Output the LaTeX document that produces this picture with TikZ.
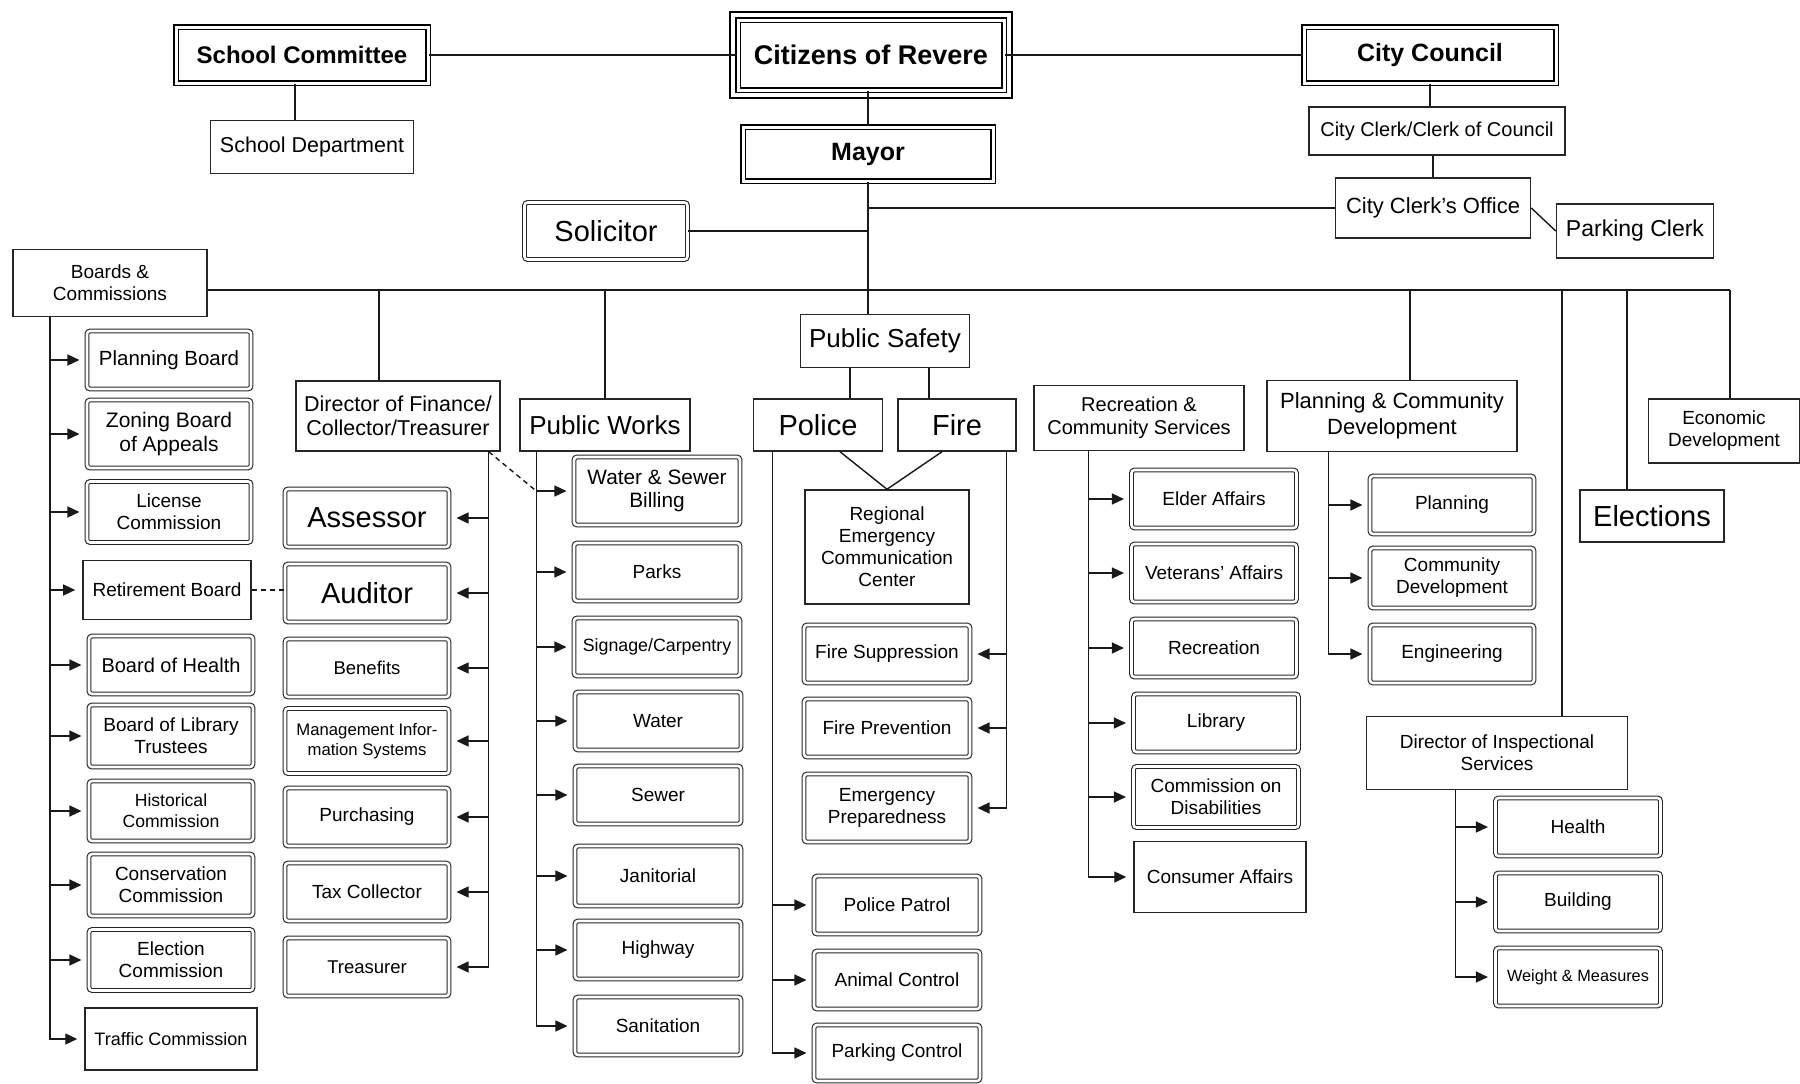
\documentclass[tikz,border=0pt]{standalone}
\usepackage{fontspec}
\setmainfont{Liberation Sans}
\usetikzlibrary{arrows.meta,calc}
\begin{document}
\begin{tikzpicture}[x=1pt,y=-1pt,
  every node/.style={inner sep=0pt, align=center, fill=white, font=\fontsize{19}{22}\selectfont},
  ln/.style={line width=1.4pt, draw=black!90},
  plain/.style={draw=black!85, line width=1.5pt, fill=white},
  leaf/.style={draw=black!85, line width=1.1pt, double=white, double distance=2.6pt, rounded corners=3pt, minimum width=164pt, minimum height=58pt},
  topbox/.style={draw=black, line width=1.8pt, double=white, double distance=3pt, font=\bfseries\fontsize{25}{28}\selectfont},
  arr/.style={ln, -{Triangle[length=12pt,width=11pt]}, shorten >=7pt},
]
\fill[white] (0,0) rectangle (1800,1084);
\useasboundingbox (0,0) rectangle (1800,1084);

% ---------- top level ----------
\node[topbox, minimum width=252pt, minimum height=56pt, font=\bfseries\fontsize{24}{28}\selectfont] (sc) at (302,55) {School Committee};
\node[topbox, minimum width=266pt, minimum height=70pt, font=\bfseries\fontsize{27}{30}\selectfont] (cit) at (871,55) {Citizens of Revere};
\draw[line width=2.4pt] ([shift={(-7,-7)}]cit.north west) rectangle ([shift={(7,7)}]cit.south east);
\node[topbox, minimum width=252pt, minimum height=56pt] (cc) at (1430,55) {City Council};
\node[topbox, minimum width=250pt, minimum height=54pt] (mayor) at (868,154) {Mayor};

\node[plain, minimum width=203pt, minimum height=53pt, font=\fontsize{21.5}{24}\selectfont] (sd) at (312,147) {School Department};
\node[plain, minimum width=256pt, minimum height=48pt, font=\fontsize{20}{23}\selectfont] (cccc) at (1437,131) {City Clerk/Clerk of Council};
\node[plain, minimum width=195pt, minimum height=60pt, font=\fontsize{22}{25}\selectfont] (cco) at (1433,208) {City Clerk's Office};
\node[plain, minimum width=157pt, minimum height=54pt, font=\fontsize{23}{26}\selectfont] (pc) at (1635,231) {Parking Clerk};
\node[leaf, minimum width=163pt, minimum height=57pt, font=\fontsize{29}{32}\selectfont] (sol) at (606,231) {Solicitor};
\node[plain, minimum width=194pt, minimum height=67pt] (boards) at (110,283) {Boards \&\\Commissions};

% ---------- second level ----------
\node[plain, minimum width=204pt, minimum height=70pt, font=\fontsize{21.5}{24}\selectfont] (fin) at (398,416) {Director of Finance/\\Collector/Treasurer};
\node[plain, minimum width=170pt, minimum height=52pt, font=\fontsize{26}{29}\selectfont] (pw) at (605,425) {Public Works};
\node[plain, minimum width=169pt, minimum height=53pt, font=\fontsize{26}{29}\selectfont] (ps) at (885,341) {Public Safety};
\node[plain, minimum width=129pt, minimum height=52pt, font=\fontsize{29}{32}\selectfont] (police) at (818,425) {Police};
\node[plain, minimum width=118pt, minimum height=52pt, font=\fontsize{29}{32}\selectfont] (fire) at (957,425) {Fire};
\node[plain, minimum width=164pt, minimum height=114pt] (recc) at (887,547) {Regional\\Emergency\\Communication\\Center};
\node[plain, minimum width=210pt, minimum height=65pt, font=\fontsize{20}{23}\selectfont] (rcs) at (1139,418) {Recreation \&\\Community Services};
\node[plain, minimum width=250pt, minimum height=71pt, font=\fontsize{22}{26}\selectfont] (pcd) at (1392,416) {Planning \& Community\\Development};
\node[plain, minimum width=261pt, minimum height=73pt] (dis) at (1497,753) {Director of Inspectional\\Services};
\node[plain, minimum width=144pt, minimum height=52pt, font=\fontsize{29}{32}\selectfont] (elec) at (1652,516) {Elections};
\node[plain, minimum width=151pt, minimum height=64pt] (eco) at (1724,431) {Economic\\Development};

% ---------- boards & commissions ----------
\node[leaf, font=\fontsize{20.5}{23}\selectfont] (pb) at (169,360) {Planning Board};
\node[leaf, minimum height=68pt, font=\fontsize{21}{24}\selectfont] (zba) at (169,434) {Zoning Board\\of Appeals};
\node[leaf, minimum height=61pt] (lic) at (169,512) {License\\Commission};
\node[plain, minimum width=168pt, minimum height=59pt, line width=1.7pt] (rb) at (167,590) {Retirement Board};
\node[leaf, font=\fontsize{20}{23}\selectfont] (boh) at (171,665) {Board of Health};
\node[leaf, minimum height=62pt] (blt) at (171,736) {Board of Library\\Trustees};
\node[leaf, minimum height=60pt, font=\fontsize{17.6}{21}\selectfont] (hist) at (171,811) {Historical\\Commission};
\node[leaf, minimum height=62pt] (cons) at (171,885) {Conservation\\Commission};
\node[leaf, minimum height=61pt] (ec) at (171,960) {Election\\Commission};
\node[plain, minimum width=172pt, minimum height=62pt, font=\fontsize{18}{21}\selectfont] (tc) at (171,1039) {Traffic Commission};

% ---------- finance ----------
\node[leaf, font=\fontsize{29}{32}\selectfont] (ass) at (367,518) {Assessor};
\node[leaf, font=\fontsize{29}{32}\selectfont] (aud) at (367,593) {Auditor};
\node[leaf, font=\fontsize{18.5}{21}\selectfont] (ben) at (367,668) {Benefits};
\node[leaf, minimum height=65pt, font=\fontsize{16.7}{20}\selectfont] (mis) at (367,741) {Management Infor-\\mation Systems};
\node[leaf] (pur) at (367,817) {Purchasing};
\node[leaf] (tax) at (367,892) {Tax Collector};
\node[leaf, font=\fontsize{18.5}{21}\selectfont] (tre) at (367,967) {Treasurer};

% ---------- public works ----------
\node[leaf, minimum width=166pt, minimum height=68pt, font=\fontsize{20.8}{23}\selectfont] (wsb) at (657,491) {Water \& Sewer\\Billing};
\node[leaf, minimum width=166pt] (parks) at (657,572) {Parks};
\node[leaf, minimum width=166pt, font=\fontsize{17.8}{21}\selectfont] (sign) at (657,647) {Signage/Carpentry};
\node[leaf, minimum width=166pt] (water) at (658,721) {Water};
\node[leaf, minimum width=166pt] (sewer) at (658,795) {Sewer};
\node[leaf, minimum width=166pt, minimum height=60pt] (jan) at (658,876) {Janitorial};
\node[leaf, minimum width=166pt] (hwy) at (658,950) {Highway};
\node[leaf, minimum width=166pt] (san) at (658,1026) {Sanitation};

% ---------- public safety ----------
\node[leaf, minimum width=166pt] (fs) at (887,654) {Fire Suppression};
\node[leaf, minimum width=166pt] (fp) at (887,728) {Fire Prevention};
\node[leaf, minimum width=166pt, minimum height=68pt] (ep) at (887,808) {Emergency\\Preparedness};
\node[leaf, minimum width=166pt] (pp) at (897,905) {Police Patrol};
\node[leaf, minimum width=166pt] (ac) at (897,980) {Animal Control};
\node[leaf, minimum width=166pt, minimum height=56pt] (pkc) at (897,1053) {Parking Control};

% ---------- recreation ----------
\node[leaf, minimum width=165pt] (ea) at (1214,499) {Elder Affairs};
\node[leaf, minimum width=165pt] (va) at (1214,573) {Veterans' Affairs};
\node[leaf, minimum width=165pt] (rec) at (1214,648) {Recreation};
\node[leaf, minimum width=165pt] (lib) at (1216,723) {Library};
\node[leaf, minimum width=165pt, minimum height=61pt] (cod) at (1216,797) {Commission on\\Disabilities};
\node[plain, minimum width=172pt, minimum height=71pt] (ca) at (1220,877) {Consumer Affairs};

% ---------- planning ----------
\node[leaf] (plan) at (1452,505) {Planning};
\node[leaf, minimum height=60pt] (cd) at (1452,578) {Community\\Development};
\node[leaf] (eng) at (1452,654) {Engineering};

% ---------- inspectional ----------
\node[leaf, minimum width=165pt] (hlth) at (1578,827) {Health};
\node[leaf, minimum width=165pt] (bld) at (1578,902) {Building};
\node[leaf, minimum width=165pt, font=\fontsize{16.3}{19}\selectfont] (wm) at (1578,977) {Weight \& Measures};

% ---------- connectors ----------
\coordinate (bus) at (868,290);
\draw[ln] (sc) -- (cit);
\draw[ln] (cit) -- (cc);
\draw[ln] ([xshift=-7pt]sc.south) -- ([xshift=-7pt]sc.south |- sd.north);
\draw[ln] (cit.south -| mayor) -- (mayor.north);
\draw[ln] (cc.south) -- (cc.south |- cccc.north);
\draw[ln] (cccc.south -| cco) -- (cco.north);
\draw[ln] (cco.east) -- (pc.west);
\draw[ln] (mayor.south) -- (mayor.south |- ps.north);
\draw[ln] (mayor.south |- cco.west) -- (cco.west);
\draw[ln] (sol.east) -- (sol.east -| mayor.south);
\draw[ln] (boards.east |- bus) -- ([xshift=6pt]eco.north |- bus);

\draw[ln] ([xshift=-19pt]fin.north |- bus) -- ([xshift=-19pt]fin.north);
\draw[ln] (pw.north |- bus) -- (pw.north);
\draw[ln] ([xshift=18pt]pcd.north |- bus) -- ([xshift=18pt]pcd.north);
\draw[ln] ([xshift=65pt]dis.north |- bus) -- ([xshift=65pt]dis.north);
\draw[ln] ([xshift=-25pt]elec.north |- bus) -- ([xshift=-25pt]elec.north);
\draw[ln] ([xshift=6pt]eco.north |- bus) -- ([xshift=6pt]eco.north);

\draw[ln] ([xshift=32pt]police.north |- ps.south) -- ([xshift=32pt]police.north);
\draw[ln] ([xshift=-28pt]fire.north |- ps.south) -- ([xshift=-28pt]fire.north);
\draw[ln] ([xshift=22pt]police.south) -- (recc.north);
\draw[ln] ([xshift=-15pt]fire.south) -- (recc.north);

% boards
\coordinate (bv) at ([xshift=-60pt]boards.south);
\draw[arr] (bv) |- (tc.west);
\foreach \n in {pb,zba,lic,rb,boh,blt,hist,cons,ec} \draw[arr] (bv |- \n.west) -- (\n.west);

% finance
\coordinate (fv) at ([xshift=-12pt]fin.south east);
\draw[arr] (fv) |- (tre.east);
\foreach \n in {ass,aud,ben,mis,pur,tax} \draw[arr] (fv |- \n.east) -- (\n.east);
\draw[ln, dashed, dash pattern=on 5pt off 4pt] (rb.east) -- (rb.east -| aud.west);

% public works
\coordinate (pv) at ([xshift=17pt]pw.south west);
\draw[arr] (pv) |- (san.west);
\foreach \n in {wsb,parks,sign,water,sewer,jan,hwy} \draw[arr] (pv |- \n.west) -- (\n.west);
\draw[ln, dashed, dash pattern=on 5pt off 4pt] (fv) -- (pv |- wsb.west);

% police
\coordinate (plv) at ([xshift=20pt]police.south west);
\draw[arr] (plv) |- (pkc.west);
\foreach \n in {pp,ac} \draw[arr] (plv |- \n.west) -- (\n.west);

% fire
\coordinate (frv) at ([xshift=-10pt]fire.south east);
\draw[arr] (frv) |- (ep.east);
\foreach \n in {fs,fp} \draw[arr] (frv |- \n.east) -- (\n.east);

% recreation
\coordinate (rv) at ([xshift=55pt]rcs.south west);
\draw[arr] (rv) |- (ca.west);
\foreach \n in {ea,va,rec,lib,cod} \draw[arr] (rv |- \n.west) -- (\n.west);

% planning
\coordinate (pdv) at ([xshift=62pt]pcd.south west);
\draw[arr] (pdv) |- (eng.west);
\foreach \n in {plan,cd} \draw[arr] (pdv |- \n.west) -- (\n.west);

% inspectional
\coordinate (dv) at ([xshift=90pt]dis.south west);
\draw[arr] (dv) |- (wm.west);
\foreach \n in {hlth,bld} \draw[arr] (dv |- \n.west) -- (\n.west);
\end{tikzpicture}
\end{document}
